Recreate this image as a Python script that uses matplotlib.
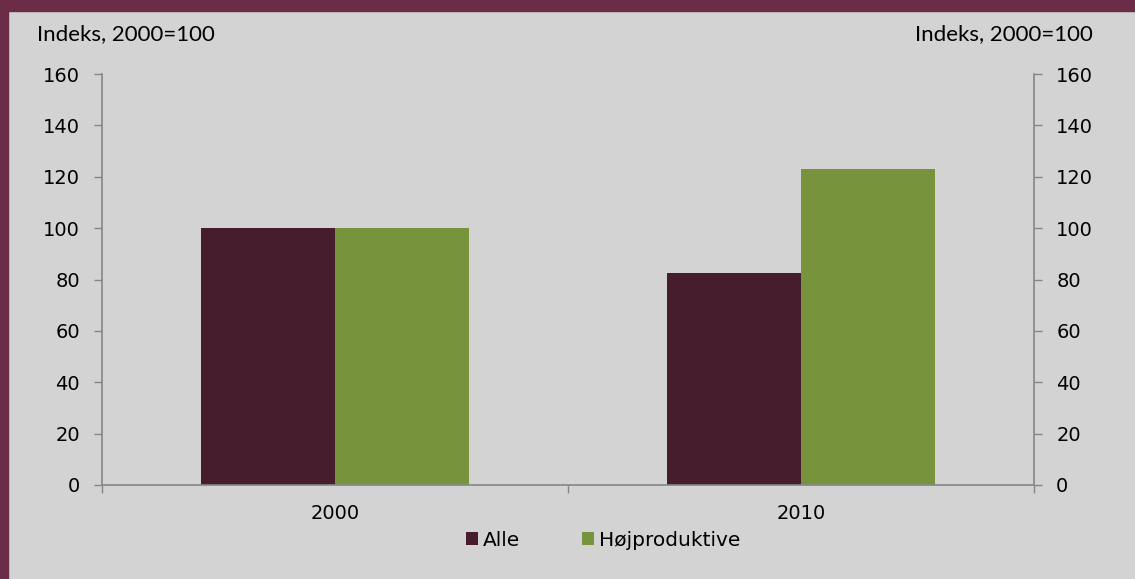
import matplotlib.pyplot as plt
import matplotlib.patches as mpatches
import numpy as np

years = ["2000", "2010"]
alle = [100, 82.7]
hojprod = [100, 122.9]
series_names = ["Alle", "Højproduktive"]
yticks = [0, 20, 40, 60, 80, 100, 120, 140, 160]

bg = "#d3d3d3"
border = "#6b2c47"
c_alle = "#461d2d"
c_hoj = "#77933c"
axcol = "#868686"

plt.rcParams["font.family"] = ["DejaVu Sans"]

fig = plt.figure(figsize=(11.35, 5.79), dpi=100, facecolor=bg)

# maroon frame: top strip and left edge
fig.patches.append(mpatches.Rectangle((0, 1 - 11 / 579), 1, 11 / 579, transform=fig.transFigure,
                                      color=border, zorder=0))
fig.patches.append(mpatches.Rectangle((0, 0), 8 / 1135, 1, transform=fig.transFigure,
                                      color=border, zorder=0))

ax = fig.add_axes([102 / 1135, 1 - 485 / 579, 932 / 1135, 411 / 579])
ax.set_facecolor(bg)

x = np.arange(len(years))
w = 0.287
ax.bar(x - w / 2, alle, w, color=c_alle, label=series_names[0])
ax.bar(x + w / 2, hojprod, w, color=c_hoj, label=series_names[1])

ax.set_xlim(-0.5, 1.5)
ax.set_ylim(0, 160)
ax.set_yticks(yticks)
ax.set_xticks([-0.5, 0.5, 1.5])
ax.set_xticklabels([])
ax.set_xticks(x, minor=True)
ax.set_xticklabels(years, minor=True)
ax.tick_params(axis="x", which="minor", length=0, pad=14, labelsize=14)
ax.tick_params(axis="x", which="major", length=6, color=axcol, width=1)
ax.tick_params(axis="y", length=6, color=axcol, width=1, labelsize=14, pad=10,
               left=True, right=True, labelleft=True, labelright=True)

ax.spines["top"].set_visible(False)
for s in ["left", "right", "bottom"]:
    ax.spines[s].set_color(axcol)
    ax.spines[s].set_linewidth(1.2)

fig.text(37 / 1135, 1 - 34 / 579, "Indeks, 2000=100", fontsize=16, va="center", ha="left",
         family="Lato")
fig.text(1093 / 1135, 1 - 34 / 579, "Indeks, 2000=100", fontsize=16, va="center", ha="right",
         family="Lato")

fig.legend(loc="center", bbox_to_anchor=(603 / 1135, 1 - 540 / 579), ncol=2, frameon=False,
           fontsize=14.5, handlelength=0.6, handleheight=0.6, handletextpad=0.25,
           columnspacing=3.05)

fig.savefig("out.png", dpi=100, facecolor=bg)
